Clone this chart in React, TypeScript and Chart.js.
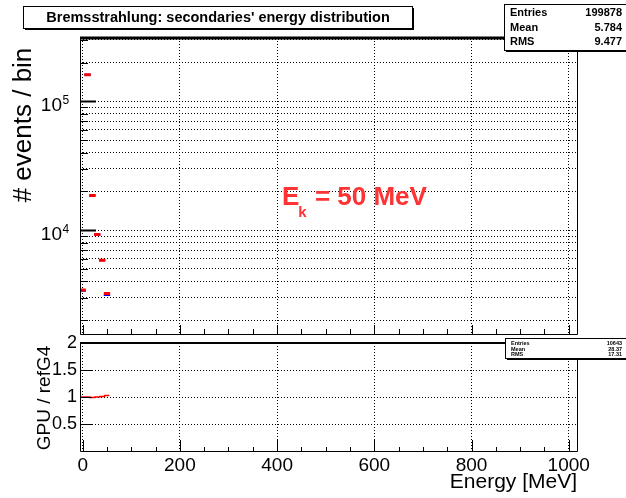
import React, { useEffect, useRef } from 'react';
import { Chart, registerables } from 'chart.js';

Chart.register(...registerables);

const FONT = '"Liberation Sans", Arial, Helvetica, sans-serif';

// ---- data ----
const binCenters = [0, 10, 20, 30, 40, 50];
const gpuCounts = [3430, 161000, 18600, 9270, 5850, 3230];
const refG4Counts = [3380, 161000, 18600, 9270, 5850, 3140];
const ratioValues = [1.0, 1.0, 0.99, 1.0, 1.01, 1.03];

const xTickValues = [0, 200, 400, 600, 800, 1000];
const xMinorStep = 50;
const countGridValues = [
  2000, 3000, 4000, 5000, 6000, 7000, 8000, 9000,
  10000, 20000, 30000, 40000, 50000, 60000, 70000, 80000, 90000,
  100000, 200000, 300000,
];
const countDecades = [10000, 100000];
const ratioTickValues = [0.5, 1, 1.5, 2];
const ratioTickLabels = ['0.5', '1', '1.5', '2'];

const mainStats = [
  ['Entries', '199878'],
  ['Mean', '5.784'],
  ['RMS', '9.477'],
];
const ratioStats = [
  ['Entries', '10643'],
  ['Mean', '28.37'],
  ['RMS', '17.31'],
];

const titleText = "Bremsstrahlung: secondaries' energy distribution";
const yTitleTop = '# events / bin';
const yTitleBottom = 'GPU / refG4';
const xTitle = 'Energy [MeV]';

const X_MIN = -5.5;
const X_MAX = 1017;
const Y_MIN = 1563;
const Y_MAX = 310000;
const R_MIN = 0;
const R_MAX = 2;
const HALF_BIN = 6.5;
const RATIO_HALF_BIN = 5;

function segments(centers: number[], values: number[], half: number, gaps: boolean) {
  const pts: any[] = [];
  centers.forEach((c, i) => {
    pts.push({ x: c - half, y: values[i] });
    pts.push({ x: c + half, y: values[i] });
    if (gaps) pts.push({ x: c + half, y: null });
  });
  return pts;
}

function drawStatsBox(ctx: CanvasRenderingContext2D, x: number, y: number, w: number, h: number,
  rows: string[][], fontPx: number, rowYs: number[], padL: number, padR: number) {
  ctx.fillStyle = '#000';
  ctx.fillRect(x + 2, y + 2, w, h);
  ctx.fillStyle = '#fff';
  ctx.fillRect(x, y, w, h);
  ctx.strokeStyle = '#000';
  ctx.lineWidth = 1;
  ctx.strokeRect(x + 0.5, y + 0.5, w, h);
  ctx.fillStyle = '#000';
  ctx.font = `bold ${fontPx}px ${FONT}`;
  ctx.textBaseline = 'middle';
  rows.forEach((r, i) => {
    ctx.textAlign = 'left';
    ctx.fillText(r[0], x + padL, rowYs[i]);
    ctx.textAlign = 'right';
    ctx.fillText(r[1], x + w - padR, rowYs[i]);
  });
}

const topDecor = {
  id: 'topDecor',
  afterDraw(chart: any) {
    const { ctx, chartArea: a, scales } = chart;
    const xs = scales.x;
    const ys = scales.y;
    ctx.save();
    ctx.strokeStyle = '#000';
    ctx.lineWidth = 1;
    // x ticks (inward, bottom)
    ctx.beginPath();
    for (let v = 0; v <= 1000; v += xMinorStep) {
      const px = Math.round(xs.getPixelForValue(v)) + 0.5;
      const len = v % 200 === 0 ? 9 : 5;
      ctx.moveTo(px, a.bottom);
      ctx.lineTo(px, a.bottom - len);
    }
    ctx.stroke();
    // y ticks (inward, left)
    countGridValues.forEach((v) => {
      const major = countDecades.includes(v);
      const py = Math.round(ys.getPixelForValue(v)) + 0.5;
      ctx.lineWidth = major ? 2 : 1;
      ctx.beginPath();
      ctx.moveTo(a.left, py);
      ctx.lineTo(a.left + (major ? 16 : 8), py);
      ctx.stroke();
    });
    // frame
    ctx.lineWidth = 1;
    ctx.beginPath();
    ctx.moveTo(a.left + 0.5, a.top);
    ctx.lineTo(a.left + 0.5, a.bottom + 0.5);
    ctx.lineTo(a.right + 0.5, a.bottom + 0.5);
    ctx.lineTo(a.right + 0.5, a.top);
    ctx.stroke();
    ctx.lineWidth = 3;
    ctx.beginPath();
    ctx.moveTo(a.left, a.top);
    ctx.lineTo(a.right + 1, a.top);
    ctx.stroke();

    // decade labels
    ctx.fillStyle = '#000';
    ctx.textBaseline = 'alphabetic';
    countDecades.forEach((v) => {
      const py = ys.getPixelForValue(v);
      const exp = Math.round(Math.log10(v));
      ctx.font = `19px ${FONT}`;
      ctx.textAlign = 'right';
      ctx.fillText('10', 62, py + 10);
      ctx.font = `12px ${FONT}`;
      ctx.textAlign = 'left';
      ctx.fillText(String(exp), 62.5, py + 3);
    });

    // y title
    ctx.save();
    ctx.translate(31, 125);
    ctx.rotate(-Math.PI / 2);
    ctx.font = `26px ${FONT}`;
    ctx.textAlign = 'center';
    ctx.textBaseline = 'alphabetic';
    ctx.fillText(yTitleTop, 0, 0);
    ctx.restore();

    // E_k = 50 MeV
    ctx.fillStyle = 'rgb(255,51,51)';
    ctx.textAlign = 'left';
    ctx.textBaseline = 'alphabetic';
    ctx.font = `bold 26px ${FONT}`;
    let ex = 282;
    ctx.fillText('E', ex, 205);
    ex += ctx.measureText('E').width;
    ctx.font = `bold 15px ${FONT}`;
    ctx.fillText('k', ex - 1, 217);
    ex += ctx.measureText('k').width;
    ctx.font = `bold 26px ${FONT}`;
    ctx.fillText(' = 50 MeV', ex, 205);

    // title box
    ctx.fillStyle = '#000';
    ctx.fillRect(25, 8, 389, 22);
    ctx.fillStyle = '#fff';
    ctx.fillRect(23, 6, 389, 22);
    ctx.strokeStyle = '#000';
    ctx.lineWidth = 1;
    ctx.strokeRect(23.5, 6.5, 389, 22);
    ctx.fillStyle = '#000';
    ctx.font = `bold 14.5px ${FONT}`;
    ctx.textAlign = 'center';
    ctx.textBaseline = 'middle';
    ctx.fillText(titleText, 218, 18);

    // stats box
    drawStatsBox(ctx, 504, 4, 124, 46, mainStats, 11, [13, 27.5, 42], 6, 6);
    ctx.restore();
  },
};

const bottomDecor = {
  id: 'bottomDecor',
  afterDraw(chart: any) {
    const { ctx, chartArea: a, scales } = chart;
    const xs = scales.x;
    const ys = scales.y;
    ctx.save();
    ctx.strokeStyle = '#000';
    ctx.lineWidth = 1;
    ctx.beginPath();
    for (let v = 0; v <= 1000; v += xMinorStep) {
      const px = Math.round(xs.getPixelForValue(v)) + 0.5;
      const len = v % 200 === 0 ? 11 : 4;
      ctx.moveTo(px, a.bottom);
      ctx.lineTo(px, a.bottom - len);
    }
    ratioTickValues.forEach((v) => {
      const py = Math.round(ys.getPixelForValue(v)) + 0.5;
      ctx.moveTo(a.left, py);
      ctx.lineTo(a.left + 12, py);
    });
    ctx.stroke();
    ctx.beginPath();
    ctx.moveTo(a.left + 0.5, a.top);
    ctx.lineTo(a.left + 0.5, a.bottom + 0.5);
    ctx.lineTo(a.right + 0.5, a.bottom + 0.5);
    ctx.lineTo(a.right + 0.5, a.top);
    ctx.stroke();
    ctx.lineWidth = 2;
    ctx.beginPath();
    ctx.moveTo(a.left, a.top);
    ctx.lineTo(a.right + 1, a.top);
    ctx.stroke();

    // y title
    ctx.fillStyle = '#000';
    ctx.save();
    ctx.translate(50, 398);
    ctx.rotate(-Math.PI / 2);
    ctx.font = `19px ${FONT}`;
    ctx.textAlign = 'center';
    ctx.textBaseline = 'alphabetic';
    ctx.fillText(yTitleBottom, 0, 0);
    ctx.restore();

    // x title
    ctx.font = `21px ${FONT}`;
    ctx.textAlign = 'right';
    ctx.textBaseline = 'alphabetic';
    ctx.fillText(xTitle, 577, 488);

    drawStatsBox(ctx, 505, 338, 123, 20, ratioStats, 5.5, [343.5, 349, 354.5], 6, 6);
    ctx.restore();
  },
};

export default function App() {
  const topRef = useRef<HTMLCanvasElement>(null);
  const botRef = useRef<HTMLCanvasElement>(null);

  useEffect(() => {
    Chart.defaults.font.family = FONT;
    Chart.defaults.color = '#000';
    const gridOpts = { color: '#000', lineWidth: 1, drawTicks: false };
    const borderOpts = { display: false, dash: [1, 2] };

    const top = new Chart(topRef.current as HTMLCanvasElement, {
      type: 'line',
      data: {
        datasets: [
          {
            label: 'GPU',
            data: segments(binCenters, gpuCounts, HALF_BIN, true),
            borderColor: '#ff0000',
            borderWidth: 3,
            pointRadius: 0,
            spanGaps: false,
            order: 0,
          },
          {
            label: 'refG4',
            data: segments(binCenters, refG4Counts, HALF_BIN, true),
            borderColor: '#0000ff',
            borderWidth: 2,
            pointRadius: 0,
            spanGaps: false,
            order: 1,
          },
        ],
      },
      options: {
        animation: false,
        responsive: false,
        devicePixelRatio: 1,
        layout: { padding: { left: 0, top: 38, right: 49, bottom: 0 } },
        plugins: { legend: { display: false }, tooltip: { enabled: false }, title: { display: false } },
        scales: {
          x: {
            type: 'linear',
            min: X_MIN,
            max: X_MAX,
            afterBuildTicks: (s: any) => { s.ticks = xTickValues.map((v) => ({ value: v })); },
            afterFit: (s: any) => { s.height = 164; },
            ticks: { display: false },
            grid: gridOpts,
            border: borderOpts,
          },
          y: {
            type: 'logarithmic',
            min: Y_MIN,
            max: Y_MAX,
            afterBuildTicks: (s: any) => { s.ticks = countGridValues.map((v) => ({ value: v })); },
            afterFit: (s: any) => { s.width = 80; },
            ticks: { display: false },
            grid: gridOpts,
            border: borderOpts,
          },
        },
      } as any,
      plugins: [topDecor],
    });

    const bottom = new Chart(botRef.current as HTMLCanvasElement, {
      type: 'line',
      data: {
        datasets: [
          {
            label: 'GPU / refG4',
            data: segments(binCenters, ratioValues, RATIO_HALF_BIN, false),
            borderColor: '#ff0000',
            borderWidth: 1.5,
            pointRadius: 0,
          },
        ],
      },
      options: {
        animation: false,
        responsive: false,
        devicePixelRatio: 1,
        layout: { padding: { left: 0, top: 343, right: 49, bottom: 0 } },
        plugins: { legend: { display: false }, tooltip: { enabled: false }, title: { display: false } },
        scales: {
          x: {
            type: 'linear',
            min: X_MIN,
            max: X_MAX,
            afterBuildTicks: (s: any) => { s.ticks = xTickValues.map((v) => ({ value: v })); },
            afterFit: (s: any) => { s.height = 47; },
            ticks: { display: true, font: { size: 19 }, padding: 3, maxRotation: 0, callback: (v: any) => String(v) },
            grid: gridOpts,
            border: borderOpts,
          },
          y: {
            type: 'linear',
            min: R_MIN,
            max: R_MAX,
            afterBuildTicks: (s: any) => { s.ticks = ratioTickValues.map((v) => ({ value: v })); },
            afterFit: (s: any) => { s.width = 80; },
            ticks: {
              display: true,
              font: { size: 18 },
              padding: 3,
              callback: (v: any) => {
                const i = ratioTickValues.indexOf(Number(v));
                return i >= 0 ? ratioTickLabels[i] : '';
              },
            },
            grid: gridOpts,
            border: borderOpts,
          },
        },
      } as any,
      plugins: [bottomDecor],
    });

    return () => {
      top.destroy();
      bottom.destroy();
    };
  }, []);

  const cStyle: React.CSSProperties = { position: 'absolute', left: 0, top: 0, width: 626, height: 498 };
  return (
    <div style={{ position: 'fixed', left: 0, top: 0, width: 626, height: 498, background: '#fff' }}>
      <canvas ref={topRef} width={626} height={498} style={cStyle} />
      <canvas ref={botRef} width={626} height={498} style={cStyle} />
    </div>
  );
}
